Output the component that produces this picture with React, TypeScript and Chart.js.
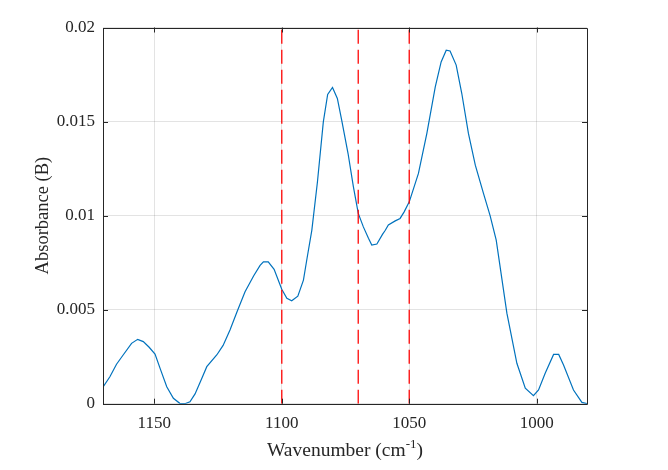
import React, { useEffect, useRef } from "react";
import { Chart, registerables } from "chart.js";

Chart.register(...registerables);

const wavenumbers = [
  1170.0, 1167.4, 1164.8, 1162.2, 1158.9, 1156.5, 1154.3, 1152.0, 1149.7, 1147.5,
  1145.1, 1142.5, 1140.0, 1138.0, 1136.0, 1134.0, 1131.5, 1129.4, 1125.5, 1123.0,
  1120.3, 1117.5, 1114.4, 1111.0, 1108.5, 1107.2, 1105.3, 1103.0, 1100.0, 1098.0,
  1096.1, 1093.7, 1091.5, 1090.0, 1088.2, 1086.0, 1083.7, 1082.0, 1080.1, 1078.2,
  1076.5, 1074.0, 1071.9, 1070.0, 1068.0, 1066.0, 1064.7, 1062.7, 1060.5, 1059.4,
  1058.2, 1055.5, 1053.6, 1052.0, 1050.0, 1046.4, 1043.1, 1039.8, 1037.5, 1035.5,
  1034.0, 1031.6, 1029.4, 1026.8, 1024.1, 1020.9, 1018.3, 1015.9, 1011.7, 1007.8,
  1004.5, 1001.3, 999.3, 996.7, 993.4, 991.4, 989.5, 985.6, 982.3, 980.3,
];

const absorbance = [
  0.0009, 0.00143, 0.0021, 0.00259, 0.00321, 0.00342, 0.0033, 0.003, 0.00264, 0.0018,
  0.0009, 0.00029, 0.00002, 0.0, 0.0001, 0.00052, 0.0013, 0.00197, 0.00259, 0.0031,
  0.00392, 0.0049, 0.00595, 0.0068, 0.00735, 0.00754, 0.00754, 0.00714, 0.00608, 0.0056,
  0.00547, 0.00572, 0.00657, 0.0078, 0.00923, 0.0118, 0.01498, 0.01644, 0.01681, 0.01623,
  0.01507, 0.0133, 0.01153, 0.01012, 0.0094, 0.00879, 0.00843, 0.00849, 0.009, 0.00922,
  0.0095, 0.00972, 0.00985, 0.0102, 0.01073, 0.01224, 0.01437, 0.01684, 0.01817, 0.01879,
  0.01875, 0.018, 0.01649, 0.01437, 0.01268, 0.01118, 0.01, 0.0087, 0.0048, 0.00215,
  0.00082, 0.00043, 0.00073, 0.00162, 0.00262, 0.00262, 0.00206, 0.00073, 0.00007, 0.0,
];

const markerLines = [1100, 1070, 1050];
const xTicks = [1000, 1050, 1100, 1150];
const yTicks = [0, 0.005, 0.01, 0.015, 0.02];
const yTickLabels = ["0", "0.005", "0.01", "0.015", "0.02"];
const xRange = [980.3, 1170.1];
const yRange = [0, 0.02];

const FONT = "'Liberation Serif', 'Times New Roman', serif";

const frameAndTitles = {
  id: "frameAndTitles",
  afterDraw(chart: any) {
    const { ctx, chartArea } = chart;
    const { left, right, top, bottom } = chartArea;
    const xs = chart.scales.x;
    const ys = chart.scales.y;
    ctx.save();
    ctx.strokeStyle = "#262626";
    ctx.lineWidth = 1;
    ctx.beginPath();
    ctx.rect(Math.round(left) + 0.5, Math.round(top) + 0.5, Math.round(right - left), Math.round(bottom - top));
    ctx.stroke();
    const tl = 5;
    ctx.beginPath();
    xTicks.forEach((v) => {
      const px = Math.round(xs.getPixelForValue(v)) + 0.5;
      ctx.moveTo(px, bottom);
      ctx.lineTo(px, bottom - tl);
      ctx.moveTo(px, top);
      ctx.lineTo(px, top + tl);
    });
    yTicks.forEach((v) => {
      const py = Math.round(ys.getPixelForValue(v)) + 0.5;
      ctx.moveTo(left, py);
      ctx.lineTo(left + tl, py);
      ctx.moveTo(right, py);
      ctx.lineTo(right - tl, py);
    });
    ctx.stroke();

    ctx.fillStyle = "#262626";
    const main = "Wavenumber (cm";
    const sup = "-1";
    const end = ")";
    ctx.font = `19.5px ${FONT}`;
    const w1 = ctx.measureText(main).width;
    const w3 = ctx.measureText(end).width;
    ctx.font = `13px ${FONT}`;
    const w2 = ctx.measureText(sup).width;
    const total = w1 + w2 + w3;
    const cx = (left + right) / 2;
    const x0 = cx - total / 2;
    const by = 456;
    ctx.textBaseline = "alphabetic";
    ctx.textAlign = "left";
    ctx.font = `19.5px ${FONT}`;
    ctx.fillText(main, x0, by);
    ctx.font = `13px ${FONT}`;
    ctx.fillText(sup, x0 + w1, by - 8);
    ctx.font = `19.5px ${FONT}`;
    ctx.fillText(end, x0 + w1 + w2, by);

    ctx.save();
    ctx.translate(48, (top + bottom) / 2);
    ctx.rotate(-Math.PI / 2);
    ctx.textAlign = "center";
    ctx.font = `18.5px ${FONT}`;
    ctx.fillText("Absorbance (B)", 0, 0);
    ctx.restore();
    ctx.restore();
  },
};

export default function App() {
  const ref = useRef<HTMLCanvasElement | null>(null);
  useEffect(() => {
    document.body.style.margin = "0";
    const canvas = ref.current;
    if (!canvas) return;
    const spectrum = wavenumbers.map((w, i) => ({ x: w, y: absorbance[i] }));
    const dashed = markerLines.map((w) => ({
      data: [
        { x: w, y: yRange[0] },
        { x: w, y: yRange[1] },
      ],
      borderColor: "rgba(255,0,0,0.85)",
      borderWidth: 1.5,
      borderDash: [14, 6],
      pointRadius: 0,
      fill: false,
    }));
    const chart = new Chart(canvas, {
      type: "line",
      data: {
        datasets: [
          ...dashed,
          {
            data: spectrum,
            borderColor: "#0072BD",
            borderWidth: 1.2,
            pointRadius: 0,
            tension: 0,
            fill: false,
          },
        ],
      },
      options: {
        animation: false,
        responsive: false,
        devicePixelRatio: 1,
        layout: { padding: { left: 0, right: 81, top: 27.5, bottom: 0 } },
        plugins: { legend: { display: false }, tooltip: { enabled: false } },
        scales: {
          x: {
            type: "linear",
            reverse: true,
            min: xRange[0],
            max: xRange[1],
            afterBuildTicks: (scale: any) => {
              scale.ticks = xTicks.map((v) => ({ value: v }));
            },
            afterFit: (scale: any) => {
              scale.height = 66.3;
            },
            ticks: {
              autoSkip: false,
              maxRotation: 0,
              padding: 10,
              color: "#262626",
              font: { family: FONT, size: 17 },
              callback: (v: any) => String(v),
            },
            grid: { color: "rgba(0,0,0,0.11)", drawTicks: false },
            border: { display: false },
          },
          y: {
            type: "linear",
            min: yRange[0],
            max: yRange[1],
            afterBuildTicks: (scale: any) => {
              scale.ticks = yTicks.map((v) => ({ value: v }));
            },
            afterFit: (scale: any) => {
              scale.width = 103;
            },
            ticks: {
              autoSkip: false,
              padding: 8,
              color: "#262626",
              font: { family: FONT, size: 17 },
              callback: (v: any) => {
                const i = yTicks.findIndex((t) => Math.abs(t - v) < 1e-9);
                return i >= 0 ? yTickLabels[i] : "";
              },
            },
            grid: { color: "rgba(0,0,0,0.11)", drawTicks: false },
            border: { display: false },
          },
        },
      },
      plugins: [frameAndTitles],
    } as any);
    return () => chart.destroy();
  }, []);
  return (
    <div style={{ position: "absolute", left: 0, top: 0, width: 668, height: 470 }}>
      <canvas ref={ref} width={668} height={470} style={{ width: 668, height: 470 }} />
    </div>
  );
}
